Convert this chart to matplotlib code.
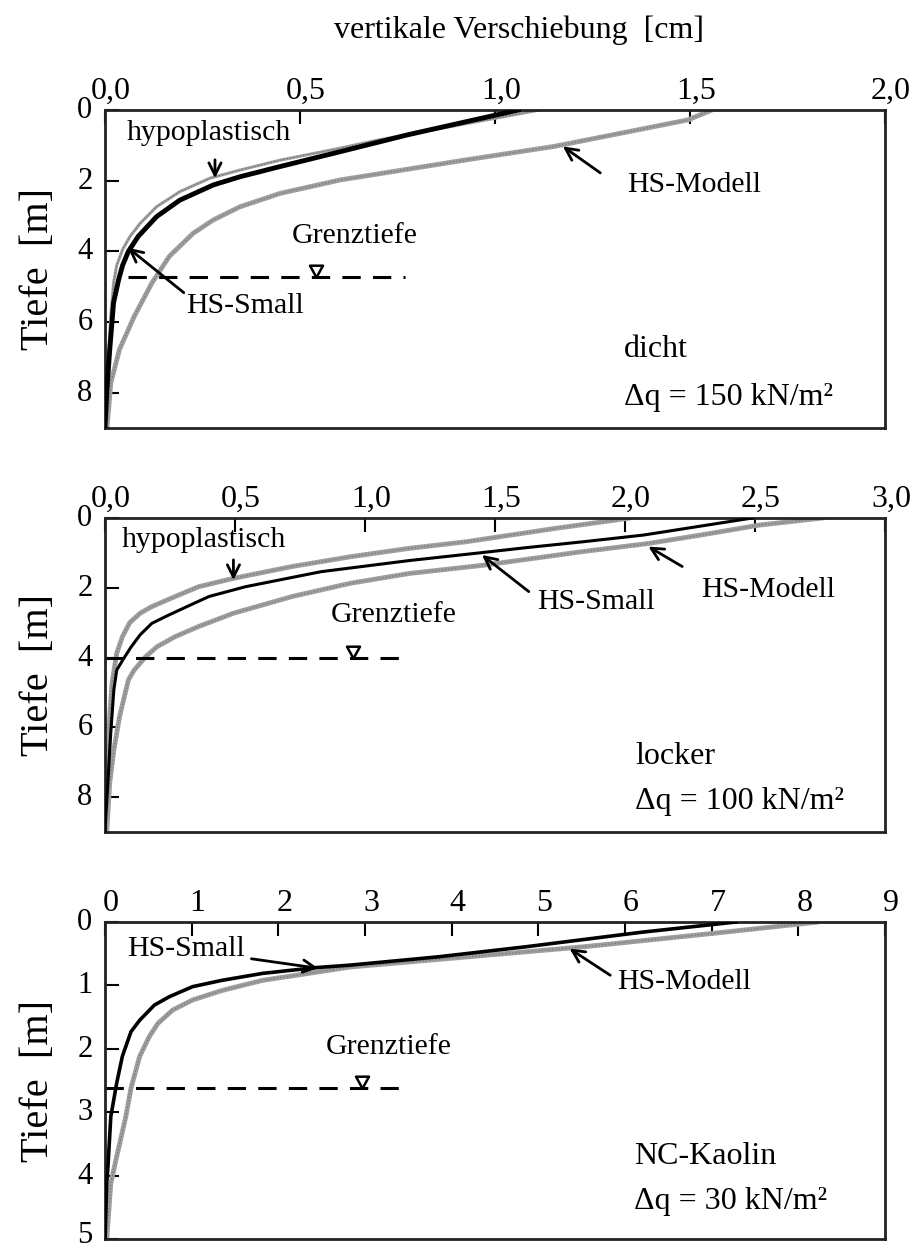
import numpy as np
import matplotlib.pyplot as plt
import matplotlib.transforms as mtransforms

plt.rcParams['font.family'] = ['Liberation Serif', 'DejaVu Serif']

# ---- Daten ----
# Panel 1: dicht, dq = 150 kN/m2
p1_hypo_x = [1.115, 0.70, 0.603, 0.449, 0.346, 0.269, 0.192, 0.132, 0.09, 0.064, 0.045, 0.03, 0.022, 0.015, 0.01, 0.005, 0.0]
p1_hypo_y = [0.0, 0.85, 1.08, 1.42, 1.70, 1.93, 2.31, 2.74, 3.21, 3.58, 3.95, 4.4, 4.9, 5.8, 6.8, 7.9, 9.0]
p1_small_x = [1.06, 0.777, 0.603, 0.449, 0.346, 0.278, 0.192, 0.132, 0.085, 0.06, 0.045, 0.035, 0.022, 0.012, 0.005, 0.0]
p1_small_y = [0.0, 0.7, 1.18, 1.6, 1.89, 2.12, 2.55, 3.02, 3.58, 4.0, 4.4, 4.8, 5.45, 6.8, 7.9, 8.95]
p1_model_x = [1.556, 1.495, 1.152, 0.927, 0.603, 0.449, 0.346, 0.278, 0.226, 0.165, 0.12, 0.075, 0.037, 0.015, 0.005]
p1_model_y = [0.0, 0.28, 1.03, 1.41, 1.98, 2.36, 2.74, 3.11, 3.49, 4.14, 4.9, 5.84, 6.78, 7.72, 9.0]

# Panel 2: locker, dq = 100 kN/m2
p2_hypo_x = [2.02, 1.73, 1.39, 1.17, 0.944, 0.72, 0.494, 0.36, 0.27, 0.18, 0.135, 0.095, 0.067, 0.045, 0.027, 0.018, 0.011, 0.0]
p2_hypo_y = [0.0, 0.30, 0.68, 0.87, 1.11, 1.39, 1.73, 1.97, 2.25, 2.54, 2.73, 3.0, 3.4, 3.88, 4.74, 5.69, 7.1, 8.94]
p2_small_x = [2.49, 2.07, 1.84, 1.62, 1.44, 1.17, 0.83, 0.54, 0.40, 0.315, 0.24, 0.18, 0.135, 0.10, 0.07, 0.045, 0.034, 0.022, 0.011, 0.0]
p2_small_y = [0.0, 0.49, 0.68, 0.85, 1.0, 1.22, 1.54, 1.97, 2.25, 2.54, 2.8, 3.02, 3.35, 3.7, 4.05, 4.36, 4.93, 6.17, 7.6, 8.94]
p2_model_x = [2.76, 2.52, 2.29, 2.09, 1.84, 1.46, 1.17, 0.944, 0.72, 0.494, 0.36, 0.27, 0.2, 0.157, 0.112, 0.09, 0.056, 0.034, 0.018, 0.007]
p2_model_y = [0.0, 0.2, 0.49, 0.73, 0.96, 1.35, 1.59, 1.87, 2.25, 2.73, 3.11, 3.4, 3.69, 3.97, 4.36, 4.64, 5.69, 6.65, 7.6, 8.94]

# Panel 3: NC-Kaolin, dq = 30 kN/m2
p3_small_x = [7.28, 6.2, 4.86, 3.84, 2.83, 2.43, 1.82, 1.35, 1.01, 0.74, 0.57, 0.40, 0.30, 0.2, 0.135, 0.067, 0.034, 0.02, 0.0]
p3_small_y = [0.0, 0.16, 0.39, 0.55, 0.68, 0.72, 0.81, 0.92, 1.02, 1.18, 1.31, 1.55, 1.73, 2.12, 2.54, 3.07, 3.86, 4.12, 5.0]
p3_model_x = [8.23, 7.01, 5.53, 4.18, 2.83, 1.82, 1.35, 1.01, 0.78, 0.61, 0.51, 0.40, 0.30, 0.24, 0.135, 0.067, 0.02]
p3_model_y = [0.0, 0.18, 0.39, 0.55, 0.71, 0.92, 1.08, 1.23, 1.39, 1.6, 1.81, 2.12, 2.62, 3.07, 3.7, 4.12, 5.0]

grenz_tiefe = [4.74, 4.0, 2.62]
xlims = [2.0, 3.0, 9.0]
ylims = [9, 9, 5]
xticks = [[0, 0.5, 1.0, 1.5, 2.0], [0, 0.5, 1.0, 1.5, 2.0, 2.5, 3.0], list(range(10))]
xticklabels = [['0,0', '0,5', '1,0', '1,5', '2,0'],
               ['0,0', '0,5', '1,0', '1,5', '2,0', '2,5', '3,0'],
               [str(i) for i in range(10)]]
yticks = [[0, 2, 4, 6, 8], [0, 2, 4, 6, 8], [0, 1, 2, 3, 4, 5]]

GRAY = '#9e9e9e'

fig = plt.figure(figsize=(9.1, 12.48), dpi=100)
L, W = 105 / 910, 780 / 910
ax1 = fig.add_axes([L, 1 - 428 / 1248, W, 318 / 1248])
ax2 = fig.add_axes([L, 1 - 832 / 1248, W, 314 / 1248])
ax3 = fig.add_axes([L, 1 - 1239 / 1248, W, 317 / 1248])
axs = [ax1, ax2, ax3]

tri = [(0, 0), (-0.55, 1), (0.55, 1), (0, 0)]
xoff = mtransforms.ScaledTranslation(6 / 100, 0, fig.dpi_scale_trans)
yoff = mtransforms.ScaledTranslation(0, 3 / 100, fig.dpi_scale_trans)
yoff_unten = mtransforms.ScaledTranslation(0, 4 / 100, fig.dpi_scale_trans)


def grau(ax, x, y, lw):
    ax.plot(x, y, color=GRAY, lw=lw, solid_capstyle='round', zorder=2)
    ax.plot(x, y, color='#6e6e6e', lw=0.8, ls=(0, (1, 2)), zorder=2)


def pfeil(ax, start, end):
    ax.annotate('', xy=end, xytext=start,
                arrowprops=dict(arrowstyle='->', lw=2, color='k', mutation_scale=22,
                                shrinkA=0, shrinkB=0))


for i, ax in enumerate(axs):
    ax.set_xlim(0, xlims[i])
    ax.set_ylim(ylims[i], 0)
    ax.xaxis.tick_top()
    ax.set_xticks(xticks[i])
    ax.set_xticklabels(xticklabels[i])
    ax.set_yticks(yticks[i])
    ax.tick_params(axis='x', direction='in', length=10, width=1.5, labelsize=23, pad=3)
    ax.tick_params(axis='y', direction='in', length=10, width=1.5, labelsize=22, pad=9)
    for lab in ax.get_xticklabels():
        lab.set_transform(lab.get_transform() + xoff)
    for lab in ax.get_yticklabels():
        lab.set_transform(lab.get_transform() + yoff)
    for s in ax.spines.values():
        s.set_linewidth(2)
        s.set_color('#222222')
    ax.set_ylabel('Tiefe  [m]', fontsize=29)
    ax.yaxis.set_label_coords(-0.062, 0.5)

# letzte Beschriftung unten etwas anheben, damit sie nicht abgeschnitten wird
lab5 = ax3.get_yticklabels()[-1]
lab5.set_transform(lab5.get_transform() + yoff_unten)

# Panel 1
grau(ax1, p1_model_x, p1_model_y, 3.5)
grau(ax1, p1_hypo_x, p1_hypo_y, 2.2)
ax1.plot(p1_small_x, p1_small_y, color='k', lw=3.5, zorder=3)
ax1.plot([0.06, 0.77], [grenz_tiefe[0]] * 2, color='k', lw=2.2, ls=(0, (6, 4)))
ax1.plot(0.54, grenz_tiefe[0], marker=tri, ms=17, mfc='white', mec='k', mew=1.8)
ax1.text(0.64, 3.58, 'Grenztiefe', fontsize=21.5, ha='center', va='center')
ax1.text(0.267, 0.65, 'hypoplastisch', fontsize=21.5, ha='center', va='center')
pfeil(ax1, (0.282, 1.41), (0.282, 1.93))
ax1.text(1.51, 2.12, 'HS-Modell', fontsize=21.5, ha='center', va='center')
pfeil(ax1, (1.27, 1.78), (1.174, 1.03))
ax1.text(0.36, 5.55, 'HS-Small', fontsize=21.5, ha='center', va='center')
pfeil(ax1, (0.202, 5.17), (0.059, 3.9))
ax1.text(1.33, 6.78, 'dicht', fontsize=23, ha='left', va='center')
ax1.text(1.33, 8.14, 'Δq = 150 kN/m²', fontsize=23, ha='left', va='center')

# Panel 2
grau(ax2, p2_model_x, p2_model_y, 3.5)
grau(ax2, p2_hypo_x, p2_hypo_y, 3.5)
ax2.plot(p2_small_x, p2_small_y, color='k', lw=2.2, zorder=3)
ax2.plot([0, 1.157], [grenz_tiefe[1]] * 2, color='k', lw=2.2, ls=(0, (6, 4)))
ax2.plot(0.955, grenz_tiefe[1], marker=tri, ms=17, mfc='white', mec='k', mew=1.8)
ax2.text(1.11, 2.78, 'Grenztiefe', fontsize=21.5, ha='center', va='center')
ax2.text(0.38, 0.63, 'hypoplastisch', fontsize=21.5, ha='center', va='center')
pfeil(ax2, (0.494, 1.2), (0.494, 1.78))
ax2.text(1.89, 2.4, 'HS-Small', fontsize=21.5, ha='center', va='center')
pfeil(ax2, (1.63, 2.11), (1.45, 1.06))
ax2.text(2.55, 2.06, 'HS-Modell', fontsize=21.5, ha='center', va='center')
pfeil(ax2, (2.22, 1.39), (2.09, 0.82))
ax2.text(2.04, 6.84, 'locker', fontsize=23, ha='left', va='center')
ax2.text(2.04, 8.13, 'Δq = 100 kN/m²', fontsize=23, ha='left', va='center')

# Panel 3
grau(ax3, p3_model_x, p3_model_y, 3.5)
ax3.plot(p3_small_x, p3_small_y, color='k', lw=2.6, zorder=3)
ax3.plot([0, 3.47], [grenz_tiefe[2]] * 2, color='k', lw=2.2, ls=(0, (6, 4)))
ax3.plot(2.97, grenz_tiefe[2], marker=tri, ms=17, mfc='white', mec='k', mew=1.8)
ax3.text(3.27, 1.97, 'Grenztiefe', fontsize=21.5, ha='center', va='center')
ax3.text(0.93, 0.42, 'HS-Small', fontsize=21.5, ha='center', va='center')
pfeil(ax3, (1.69, 0.58), (2.46, 0.73))
ax3.text(6.68, 0.94, 'HS-Modell', fontsize=21.5, ha='center', va='center')
pfeil(ax3, (5.83, 0.84), (5.36, 0.42))
ax3.text(6.1, 3.7, 'NC-Kaolin', fontsize=23, ha='left', va='center')
ax3.text(6.1, 4.41, 'Δq = 30 kN/m²', fontsize=23, ha='left', va='center')

fig.text(519 / 910, 1 - 30 / 1248, 'vertikale Verschiebung  [cm]', fontsize=23,
         ha='center', va='center')

fig.savefig('out.png', dpi=100)
